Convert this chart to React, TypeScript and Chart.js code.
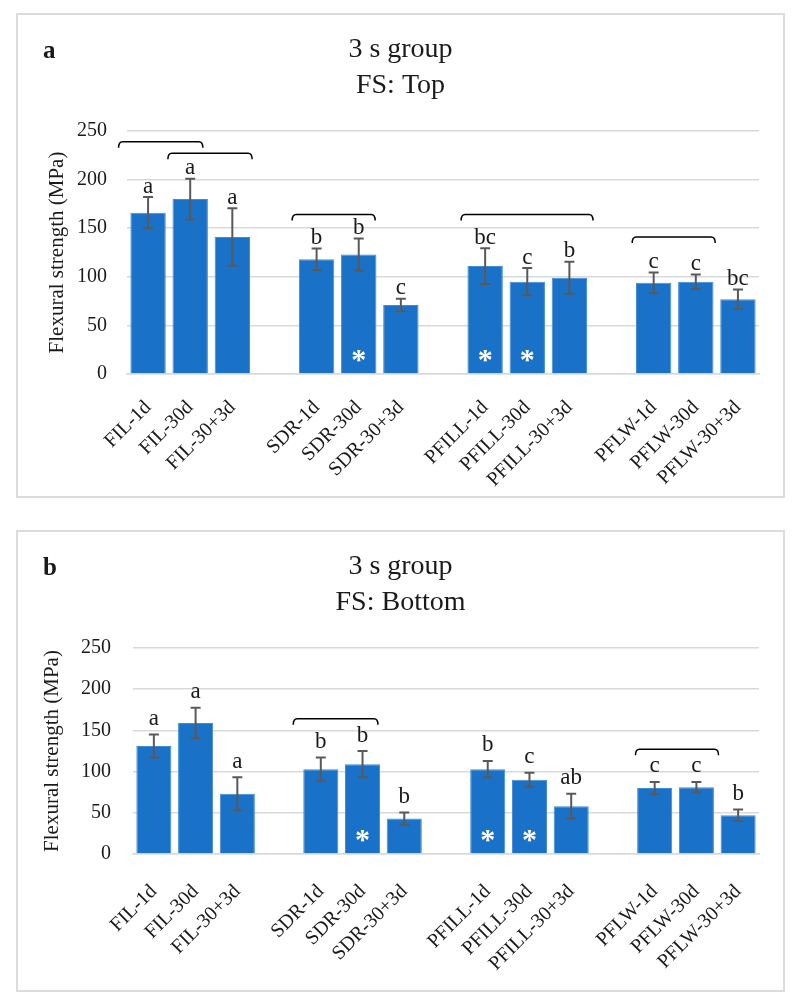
import React, { useEffect, useRef } from 'react';
import { Chart, registerables } from 'chart.js';

Chart.register(...registerables);

// ---------- data ----------
const categories = [
  'FIL-1d', 'FIL-30d', 'FIL-30+3d', '',
  'SDR-1d', 'SDR-30d', 'SDR-30+3d', '',
  'PFILL-1d', 'PFILL-30d', 'PFILL-30+3d', '',
  'PFLW-1d', 'PFLW-30d', 'PFLW-30+3d',
];

const topMeans = [166, 180, 141, null, 118, 123, 71, null, 111, 95, 99, null, 94, 95, 77];
const topSD = [16, 21, 29.5, null, 11, 16.5, 6.5, null, 18.5, 14, 16.5, null, 10.5, 7.5, 10];
const topLetters = ['a', 'a', 'a', '', 'b', 'b', 'c', '', 'bc', 'c', 'b', '', 'c', 'c', 'bc'];

const bottomMeans = [131, 159, 73, null, 103, 109, 43, null, 103, 90, 58, null, 80, 81, 47];
const bottomSD = [14, 18.5, 20, null, 14, 16, 7.5, null, 10, 8.5, 15, null, 7.5, 6.5, 7];
const bottomLetters = ['a', 'a', 'a', '', 'b', 'b', 'b', '', 'b', 'c', 'ab', '', 'c', 'c', 'b'];

const starred = [false, false, false, false, false, true, false, false, true, true, false, false, false, false, false];

// brackets: [start category, end category, value]
const topBrackets = [
  [-0.7, 1.3, 239],
  [0.47, 2.47, 227],
  [3.42, 5.39, 164],
  [7.43, 10.56, 164],
  [11.49, 13.46, 141],
];
const bottomBrackets = [
  [3.34, 5.37, 164],
  [11.54, 13.53, 127],
];

const yMin = 0;
const yMax = 250;
const yStep = 50;
const yTitle = 'Flexural strength (MPa)';
const topTitle = ['3 s group', 'FS: Top'];
const bottomTitle = ['3 s group', 'FS: Bottom'];

// ---------- styles ----------
const SERIF = '"Liberation Serif", "Times New Roman", serif';
const BAR = '#1a72c8';
const BAR_EDGE = '#3f8bd6';
const GRID = '#d9d9d9';
const TXT = '#1a1a1a';
const ERR = '#595959';

const annotPlugin = {
  id: 'annot',
  afterDatasetsDraw(chart: any, _args: any, opts: any) {
    const { ctx, scales } = chart;
    const x = scales.x;
    const y = scales.y;
    const meta = chart.getDatasetMeta(0);
    ctx.save();
    // panel letter
    ctx.fillStyle = TXT;
    ctx.font = 'bold 25px ' + SERIF;
    ctx.textAlign = 'left';
    ctx.textBaseline = 'alphabetic';
    ctx.fillText(opts.panel, 25, 43);

    const zero = y.getPixelForValue(0);
    opts.means.forEach((m: number | null, i: number) => {
      if (m == null) return;
      const bar = meta.data[i];
      const cx = bar.x;
      const sd = opts.sds[i];
      const yt = y.getPixelForValue(m + sd);
      const yb = y.getPixelForValue(m - sd);
      ctx.strokeStyle = ERR;
      ctx.lineWidth = 2;
      ctx.beginPath();
      ctx.moveTo(cx, yt);
      ctx.lineTo(cx, yb);
      ctx.moveTo(cx - 5, yt);
      ctx.lineTo(cx + 5, yt);
      ctx.moveTo(cx - 5, yb);
      ctx.lineTo(cx + 5, yb);
      ctx.stroke();

      ctx.fillStyle = TXT;
      ctx.font = '23px ' + SERIF;
      ctx.textAlign = 'center';
      ctx.textBaseline = 'alphabetic';
      ctx.fillText(opts.letters[i], cx, yt - opts.letterGap);

      if (opts.stars[i]) {
        ctx.fillStyle = '#ffffff';
        ctx.font = 'bold 30px ' + SERIF;
        ctx.fillText('*', cx, zero - 5.5);
      }
    });

    ctx.strokeStyle = '#000000';
    ctx.lineWidth = 1.5;
    opts.brackets.forEach((b: number[]) => {
      const x1 = x.getPixelForValue(b[0]);
      const x2 = x.getPixelForValue(b[1]);
      const yy = y.getPixelForValue(b[2]);
      ctx.beginPath();
      ctx.moveTo(x1, yy + 6);
      ctx.quadraticCurveTo(x1, yy, x1 + 4, yy);
      ctx.lineTo(x2 - 4, yy);
      ctx.quadraticCurveTo(x2, yy, x2, yy + 6);
      ctx.stroke();
    });
    ctx.restore();
  },
};

type PanelProps = {
  panel: string;
  title: string[];
  means: (number | null)[];
  sds: (number | null)[];
  letters: string[];
  brackets: number[][];
  width: number;
  height: number;
  yWidth: number;
  xHeight: number;
  yTitlePad: number;
  yTickPad: number;
  xTickPad: number;
  letterGap: number;
};

function Panel(p: PanelProps) {
  const ref = useRef<HTMLCanvasElement>(null);
  useEffect(() => {
    const chart = new Chart(ref.current as HTMLCanvasElement, {
      type: 'bar',
      data: {
        labels: categories,
        datasets: [
          {
            data: p.means as any,
            backgroundColor: BAR,
            borderColor: BAR_EDGE,
            borderWidth: 1,
            barPercentage: 0.84,
            categoryPercentage: 1,
          },
        ],
      },
      options: {
        responsive: false,
        animation: false,
        devicePixelRatio: 1,
        layout: { padding: { top: 0, left: 24, right: 24, bottom: 0 } },
        plugins: {
          legend: { display: false },
          tooltip: { enabled: false },
          title: {
            display: true,
            text: p.title,
            color: TXT,
            font: { family: SERIF, size: 28, weight: 'normal', lineHeight: 1.286 },
            padding: { top: 17, bottom: 27 },
          },
          annot: {
            panel: p.panel,
            means: p.means,
            sds: p.sds,
            letters: p.letters,
            stars: starred,
            brackets: p.brackets,
            letterGap: p.letterGap,
          },
        } as any,
        scales: {
          x: {
            type: 'category',
            offset: true,
            grid: { display: false, drawTicks: false },
            border: { display: true, color: GRID, width: 1.5 },
            ticks: {
              autoSkip: false,
              minRotation: 45,
              maxRotation: 45,
              padding: p.xTickPad,
              color: TXT,
              font: { family: SERIF, size: 20 },
            },
            afterFit: (s: any) => {
              s.height = p.xHeight;
            },
          },
          y: {
            min: yMin,
            max: yMax,
            ticks: {
              stepSize: yStep,
              padding: p.yTickPad,
              color: TXT,
              font: { family: SERIF, size: 20 },
            },
            grid: { color: GRID, lineWidth: 1.5, drawTicks: false },
            border: { display: false },
            title: {
              display: true,
              text: yTitle,
              color: TXT,
              font: { family: SERIF, size: 21, lineHeight: 1 },
              padding: { top: p.yTitlePad, bottom: 0 },
            },
            afterFit: (s: any) => {
              s.width = p.yWidth;
            },
          },
        },
      },
      plugins: [annotPlugin as any],
    });
    return () => chart.destroy();
  }, []);
  return (
    <canvas
      ref={ref}
      width={p.width}
      height={p.height}
      style={{ display: 'block', width: p.width, height: p.height }}
    />
  );
}

export default function App() {
  return (
    <div style={{ position: 'relative', width: 782, height: 990 }}>
      <div
        style={{
          position: 'absolute',
          left: 8,
          top: 5,
          border: '2px solid #dcdcdc',
          width: 765,
          height: 481,
        }}
      >
        <Panel
          panel="a"
          title={topTitle}
          means={topMeans}
          sds={topSD}
          letters={topLetters}
          brackets={topBrackets}
          width={765}
          height={481}
          yWidth={85}
          xHeight={122}
          yTitlePad={5}
          yTickPad={20}
          xTickPad={22}
          letterGap={4.5}
        />
      </div>
      <div
        style={{
          position: 'absolute',
          left: 8,
          top: 522,
          border: '2px solid #dcdcdc',
          width: 765,
          height: 458,
        }}
      >
        <Panel
          panel="b"
          title={bottomTitle}
          means={bottomMeans}
          sds={bottomSD}
          letters={bottomLetters}
          brackets={bottomBrackets}
          width={765}
          height={458}
          yWidth={91}
          xHeight={136}
          yTitlePad={0}
          yTickPad={22}
          xTickPad={26}
          letterGap={9.5}
        />
      </div>
    </div>
  );
}
